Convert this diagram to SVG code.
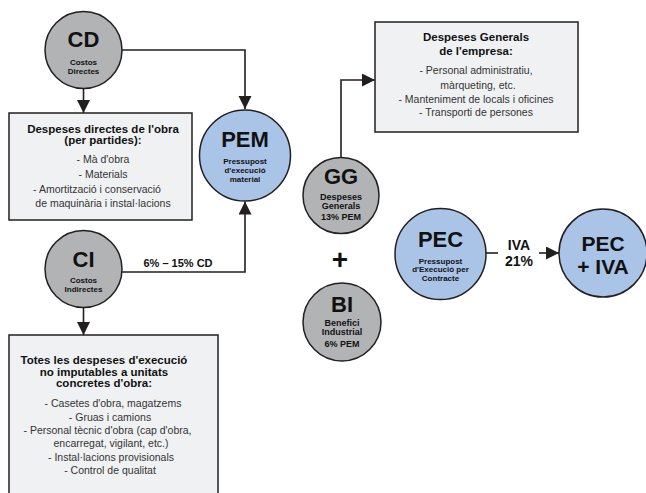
<svg xmlns="http://www.w3.org/2000/svg" width="646" height="493" viewBox="0 0 646 493">
<defs>
<marker id="ah" markerUnits="userSpaceOnUse" markerWidth="14" markerHeight="14" refX="13" refY="6.5" orient="auto">
<path d="M0,0 L13,6.5 L0,13 Z" fill="#231f20"/>
</marker>
<style>
.gray{fill:#b2b3b5;stroke:#231f20;stroke-width:1.5}
.blue{fill:#a9c4e7;stroke:#231f20;stroke-width:1.5}
.box{fill:#f0f1f3;stroke:#231f20;stroke-width:1.5}
.con{fill:none;stroke:#231f20;stroke-width:1.6}
text{font-family:"Liberation Sans",Arial,sans-serif;fill:#111;text-anchor:middle}
.big{font-size:22px;font-weight:bold}
.big2{font-size:21px;font-weight:bold}
.sm{font-size:8px;font-weight:bold}
.sm9{font-size:9px;font-weight:bold}
.tt{font-size:11.5px;font-weight:bold}
.tx{font-size:10.5px;fill:#333}
.lab{font-size:11px;font-weight:bold}
.iva{font-size:14px;font-weight:bold}
</style>
</defs>
<rect width="646" height="493" fill="#ffffff"/>
<g id="connectors">
<path class="con" d="M122,50 H245 V109" marker-end="url(#ah)"/>
<path class="con" d="M83.5,88.5 V113" marker-end="url(#ah)"/>
<path class="con" d="M122,272 H245 V201.5" marker-end="url(#ah)"/>
<path class="con" d="M83.5,307.5 V335" marker-end="url(#ah)"/>
<path class="con" d="M341,157 V80 H375" marker-end="url(#ah)"/>
<path class="con" d="M486,253 H498"/>
<path class="con" d="M539,253 H559" marker-end="url(#ah)"/>
<text class="lab" x="178" y="267">6% – 15% CD</text>
<text class="iva" x="519" y="250">IVA</text>
<text class="iva" x="519" y="266">21%</text>
</g>
<g id="box-directes">
<rect class="box" x="9" y="113" width="183" height="107"/>
<text class="tt" x="103" y="133">Despeses directes de l'obra</text>
<text class="tt" x="103" y="144">(per partides):</text>
<text class="tx" x="103" y="163">- Mà d'obra</text>
<text class="tx" x="103" y="177.5">- Materials</text>
<text class="tx" x="97" y="192.5">- Amortització i conservació</text>
<text class="tx" x="103" y="207">de maquinària i instal·lacions</text>
</g>
<g id="box-indirectes">
<rect class="box" x="9" y="335" width="209" height="170"/>
<text class="tt" x="104" y="364">Totes les despeses d'execució</text>
<text class="tt" x="104" y="375.5">no imputables a unitats</text>
<text class="tt" x="104" y="387">concretes d'obra:</text>
<text class="tx" x="113" y="407">- Casetes d'obra, magatzems</text>
<text class="tx" x="110" y="420.5">- Gruas i camions</text>
<text class="tx" x="107.5" y="434">- Personal tècnic d'obra (cap d'obra,</text>
<text class="tx" x="111" y="447">encarregat, vigilant, etc.)</text>
<text class="tx" x="111" y="460.5">- Instal·lacions provisionals</text>
<text class="tx" x="110" y="474">- Control de qualitat</text>
</g>
<g id="box-generals">
<rect class="box" x="375" y="22" width="203" height="110"/>
<text class="tt" x="476" y="41">Despeses Generals</text>
<text class="tt" x="476" y="55">de l'empresa:</text>
<text class="tx" x="476" y="74">- Personal administratiu,</text>
<text class="tx" x="478" y="88.5">màrqueting, etc.</text>
<text class="tx" x="476" y="103">- Manteniment de locals i oficines</text>
<text class="tx" x="476" y="115.5">- Transporti de persones</text>
</g>
<g id="node-cd">
<circle class="gray" cx="83.5" cy="50" r="38.5"/>
<text class="big" x="83.5" y="47">CD</text>
<text class="sm" x="83.5" y="64.5">Costos</text>
<text class="sm" x="83.5" y="74">Directes</text>
</g>
<g id="node-ci">
<circle class="gray" cx="83.5" cy="269" r="38.5"/>
<text class="big" x="83.5" y="267">CI</text>
<text class="sm" x="83.5" y="283">Costos</text>
<text class="sm" x="83.5" y="291.5">Indirectes</text>
</g>
<g id="node-pem">
<circle class="blue" cx="245" cy="155.5" r="45.5"/>
<text class="big" x="245" y="147">PEM</text>
<text class="sm" x="245" y="164">Pressupost</text>
<text class="sm" x="245" y="173">d'execució</text>
<text class="sm" x="245" y="182">material</text>
</g>
<g id="node-gg">
<circle class="gray" cx="341" cy="195.5" r="38"/>
<text class="big" x="341" y="184">GG</text>
<text class="sm9" x="341" y="199.5">Despeses</text>
<text class="sm9" x="341" y="208.5">Generals</text>
<text class="sm9" x="341" y="219.5">13% PEM</text>
</g>
<g id="plus">
<text x="340" y="269" style="font-size:28px;font-weight:bold">+</text>
</g>
<g id="node-bi">
<circle class="gray" cx="342" cy="322" r="39"/>
<text class="big" x="342" y="312">BI</text>
<text class="sm9" x="342" y="326">Benefici</text>
<text class="sm9" x="342" y="335">Industrial</text>
<text class="sm9" x="342" y="346.5">6% PEM</text>
</g>
<g id="node-pec">
<circle class="blue" cx="440.5" cy="254" r="45.5"/>
<text class="big" x="440.5" y="247">PEC</text>
<text class="sm" x="440.5" y="263.5">Pressupost</text>
<text class="sm" x="440.5" y="272">d'Execució per</text>
<text class="sm" x="440.5" y="281">Contracte</text>
</g>
<g id="node-peciva">
<circle class="blue" cx="603" cy="253" r="44"/>
<text class="big2" x="603" y="251">PEC</text>
<text class="big2" x="603" y="274">+ IVA</text>
</g>
</svg>
